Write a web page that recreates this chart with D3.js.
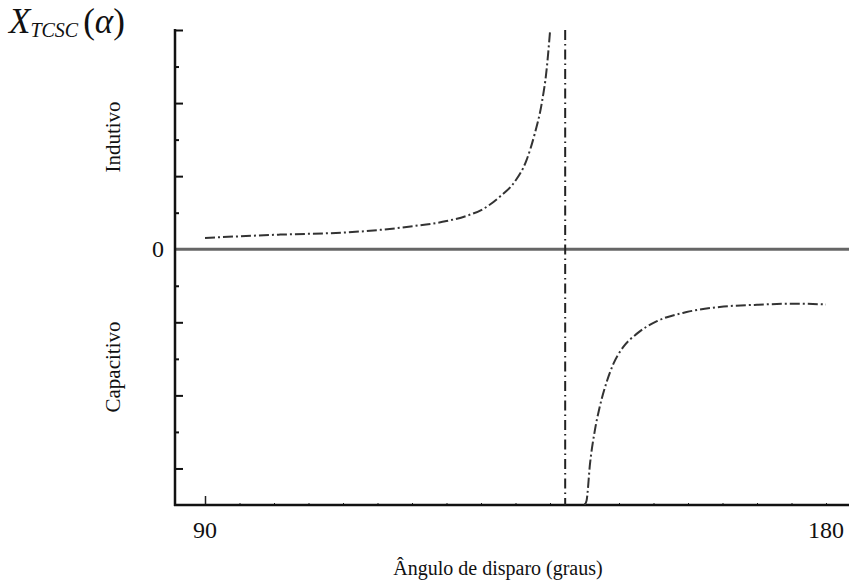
<!DOCTYPE html>
<html>
<head>
<meta charset="utf-8">
<script src="https://cdnjs.cloudflare.com/ajax/libs/d3/7.8.5/d3.min.js"></script>
<style>
  body { margin: 0; background: #fff; }
  text { font-family: "Liberation Serif", "DejaVu Serif", serif; fill: #111; }
</style>
</head>
<body>
<svg id="myGraph" width="849" height="582"></svg>
<script>
// angulo de disparo (graus) e reatancia (unidades de tick)
var indAngle = [90.0, 100.9, 110.5, 115.4, 120.1, 125.0, 128.0, 130.3, 132.8, 134.7, 136.6, 137.8, 138.8, 139.5, 140.0];
var indX     = [0.31, 0.40, 0.46, 0.53, 0.63, 0.77, 0.92, 1.10, 1.45, 1.80, 2.44, 3.17, 3.99, 4.90, 5.95];
var capAngle = [145.0, 145.3, 145.8, 146.5, 147.2, 148.2, 149.2, 150.6, 152.6, 155.5, 159.8, 164.6, 170.0, 175.3, 180.0];
var capX     = [-7.0, -6.88, -5.87, -4.96, -4.32, -3.64, -3.13, -2.68, -2.31, -1.97, -1.72, -1.58, -1.52, -1.49, -1.51];
var resAngle = 142.2;
var yTicks = d3.range(-6, 7);
var xTicks = d3.range(90, 181, 5);
var xLabels = [90, 180];

var svg = d3.select("#myGraph");
var x = d3.scaleLinear().domain([90, 180]).range([205, 826]);
var y = d3.scaleLinear().domain([-7, 6]).range([505, 30]);
var left = 175, right = 849;

svg.append("clipPath").attr("id", "clip")
  .append("rect").attr("x", left).attr("y", y(6)).attr("width", right - left).attr("height", y(-7) - y(6));

// linha do zero
svg.append("line")
  .attr("x1", left).attr("x2", right)
  .attr("y1", y(0)).attr("y2", y(0))
  .attr("stroke", "#666").attr("stroke-width", 3);

// eixo y (ticks para dentro, alternando longo/curto)
var yAxis = svg.append("g")
  .attr("transform", "translate(" + left + ",0)")
  .call(d3.axisRight(y).tickValues(yTicks.filter(function(d){ return d != 0; })).tickFormat(""));
yAxis.select(".domain").remove();
yAxis.selectAll(".tick line")
  .attr("x2", function(d){ return d % 2 == 0 ? 8 : 4; })
  .attr("stroke", "#111").attr("stroke-width", 2);

// eixo x
var xAxis = svg.append("g")
  .attr("transform", "translate(0," + y(-7) + ")")
  .call(d3.axisTop(x).tickValues(xTicks).tickFormat(""));
xAxis.select(".domain").remove();
xAxis.selectAll(".tick line")
  .attr("y2", function(d){ return d == 90 ? -9 : -2; })
  .attr("stroke", "#222").attr("stroke-width", function(d){ return d == 90 ? 1.5 : 1; });

svg.append("line").attr("x1", left).attr("x2", left).attr("y1", y(6) - 1).attr("y2", y(-7) + 1)
  .attr("stroke", "#111").attr("stroke-width", 2.5);
svg.append("line").attr("x1", left - 1).attr("x2", right).attr("y1", y(-7)).attr("y2", y(-7))
  .attr("stroke", "#111").attr("stroke-width", 2.5);

// curvas
var line = d3.line()
  .x(function(d){ return x(d[0]); })
  .y(function(d){ return y(d[1]); })
  .curve(d3.curveMonotoneX);

var plot = svg.append("g").attr("clip-path", "url(#clip)");
plot.append("path")
  .attr("d", line(d3.zip(indAngle, indX)))
  .attr("fill", "none").attr("stroke", "#333").attr("stroke-width", 2)
  .attr("stroke-dasharray", "10,3,2,3");
plot.append("path")
  .attr("d", line(d3.zip(capAngle, capX)))
  .attr("fill", "none").attr("stroke", "#333").attr("stroke-width", 2)
  .attr("stroke-dasharray", "10,3,2,3");
plot.append("line")
  .attr("x1", x(resAngle)).attr("x2", x(resAngle))
  .attr("y1", y(6)).attr("y2", y(-7))
  .attr("stroke", "#222").attr("stroke-width", 2)
  .attr("stroke-dasharray", "10,4,1.5,4");

// textos
svg.selectAll(".xlab")
  .data(xLabels)
  .enter()
  .append("text")
  .attr("x", function(d){ return x(d); })
  .attr("y", 538)
  .attr("text-anchor", "middle")
  .attr("font-size", 24)
  .text(function(d){ return d; });

svg.append("text").attr("x", 158).attr("y", y(0) + 8)
  .attr("text-anchor", "middle").attr("font-size", 24).text("0");

svg.append("text").attr("x", 498).attr("y", 575)
  .attr("text-anchor", "middle").attr("font-size", 20)
  .text("Ângulo de disparo (graus)");

svg.append("text").attr("transform", "translate(120,137) rotate(-90)")
  .attr("text-anchor", "middle").attr("font-size", 21).text("Indutivo");
svg.append("text").attr("transform", "translate(120,367) rotate(-90)")
  .attr("text-anchor", "middle").attr("font-size", 21).text("Capacitivo");

var title = svg.append("text").attr("x", 9).attr("y", 33);
title.append("tspan").attr("font-size", 35).attr("font-style", "italic").text("X");
title.append("tspan").attr("font-size", 20).attr("font-style", "italic").attr("dy", 4).text("TCSC");
title.append("tspan").attr("font-size", 35).attr("dy", -4).attr("dx", 5).text("(");
title.append("tspan").attr("font-size", 35).attr("font-style", "italic").text("α");
title.append("tspan").attr("font-size", 35).text(")");
</script>
</body>
</html>
